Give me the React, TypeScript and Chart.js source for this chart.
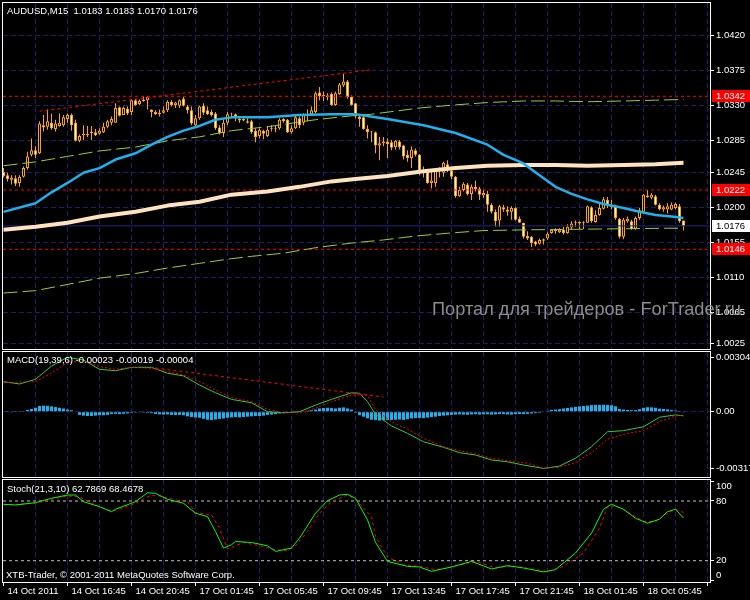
import React, { useEffect, useRef } from 'react';
import { Chart, registerables } from 'chart.js';

Chart.register(...registerables);

// ------------------------------------------------------------------ data
const symbolTitle = 'AUDUSD,M15';
const macdTitle = 'MACD(19,39,6)';
const stochTitle = 'Stoch(21,3,10)';
const copyright = 'XTB-Trader, \u00a9 2001-2011 MetaQuotes Software Corp.';
const watermark = 'Портал для трейдеров - ForTrader.ru';

const timeLabels = [
  '14 Oct 2011', '14 Oct 16:45', '14 Oct 20:45', '17 Oct 01:45', '17 Oct 05:45', '17 Oct 09:45',
  '17 Oct 13:45', '17 Oct 17:45', '17 Oct 21:45', '18 Oct 01:45', '18 Oct 05:45',
];
const BARS_PER_LABEL = 16;
const BARS_PER_GRID = 8;

const priceTicks = [1.0025, 1.0065, 1.011, 1.0155, 1.02, 1.0245, 1.0285, 1.033, 1.0375, 1.042];
const macdTicks = [-0.00317, 0, 0.00304];
const stochTicks = [0, 20, 80, 100];
const stochLevels = [80, 20];

const opens = [
  1.0245, 1.0241, 1.0235, 1.0237, 1.0231, 1.0239, 1.025, 1.0267, 1.0273, 1.0269,
  1.0305, 1.0303, 1.0308, 1.03, 1.0304, 1.0305, 1.0313, 1.0318, 1.0308, 1.0285,
  1.0292, 1.0294, 1.0295, 1.0296, 1.0294, 1.0296, 1.0303, 1.0308, 1.0308, 1.0328,
  1.0318, 1.0326, 1.0322, 1.0337, 1.0332, 1.0336, 1.0337, 1.0325, 1.0322, 1.0319,
  1.0321, 1.0324, 1.0335, 1.0331, 1.033, 1.0339, 1.0329, 1.0324, 1.0305, 1.0314,
  1.033, 1.0324, 1.0322, 1.032, 1.0302, 1.0295, 1.0308, 1.0319, 1.0319, 1.0313,
  1.0311, 1.031, 1.031, 1.0298, 1.0291, 1.0298, 1.0291, 1.03, 1.0301, 1.0301,
  1.0313, 1.0312, 1.0296, 1.0301, 1.0314, 1.0308, 1.0318, 1.0319, 1.0322, 1.0347,
  1.0342, 1.0343, 1.0345, 1.0331, 1.0345, 1.0356, 1.0361, 1.0341, 1.0333, 1.0316,
  1.0315, 1.03, 1.0296, 1.0296, 1.0279, 1.0282, 1.0284, 1.0283, 1.0277, 1.0284,
  1.0279, 1.0267, 1.0263, 1.0273, 1.0267, 1.0244, 1.0246, 1.0231, 1.0231, 1.0248,
  1.0244, 1.0255, 1.0247, 1.0239, 1.0214, 1.0222, 1.0229, 1.0217, 1.0226, 1.0224,
  1.0215, 1.0217, 1.0203, 1.0194, 1.0183, 1.02, 1.0197, 1.0194, 1.0199, 1.0185,
  1.018, 1.0163, 1.0162, 1.0156, 1.0153, 1.0157, 1.016, 1.0167, 1.0171, 1.0168,
  1.0171, 1.0167, 1.0174, 1.018, 1.0181, 1.018, 1.018, 1.02, 1.0181, 1.019,
  1.0198, 1.0209, 1.0203, 1.0201, 1.0185, 1.0162, 1.0182, 1.0182, 1.0172, 1.0186,
  1.0194, 1.0215, 1.0212, 1.0214, 1.0203, 1.0197, 1.0197, 1.0197, 1.0199, 1.0201,
  1.0183,
];
const highs = [
  1.025, 1.0244, 1.0241, 1.0241, 1.0241, 1.0252, 1.0271, 1.0288, 1.0278, 1.031,
  1.0318, 1.0325, 1.032, 1.0312, 1.032, 1.0318, 1.032, 1.032, 1.0312, 1.0293,
  1.0305, 1.0304, 1.0304, 1.03, 1.0301, 1.0308, 1.0312, 1.0316, 1.0333, 1.0329,
  1.0329, 1.0329, 1.0338, 1.0339, 1.0338, 1.0342, 1.0342, 1.0325, 1.0324, 1.0325,
  1.0329, 1.0337, 1.0337, 1.0335, 1.0338, 1.0341, 1.0331, 1.0329, 1.0318, 1.033,
  1.0333, 1.0329, 1.0325, 1.0322, 1.0305, 1.0312, 1.0322, 1.0321, 1.032, 1.0315,
  1.0314, 1.0314, 1.0312, 1.0301, 1.0301, 1.0299, 1.0304, 1.0305, 1.0304, 1.0314,
  1.0314, 1.0313, 1.0305, 1.0317, 1.0316, 1.032, 1.0325, 1.0329, 1.0348, 1.0354,
  1.0348, 1.0346, 1.0347, 1.0348, 1.0359, 1.0371, 1.0363, 1.0343, 1.0333, 1.0317,
  1.0317, 1.0305, 1.0298, 1.0297, 1.029, 1.029, 1.0288, 1.0286, 1.0286, 1.0286,
  1.028, 1.0273, 1.0278, 1.0275, 1.0268, 1.0252, 1.0249, 1.0248, 1.025, 1.0251,
  1.0258, 1.026, 1.0249, 1.024, 1.0226, 1.0232, 1.0231, 1.0229, 1.0234, 1.0226,
  1.0222, 1.0221, 1.0205, 1.0197, 1.0203, 1.0203, 1.0201, 1.0201, 1.02, 1.0188,
  1.018, 1.0169, 1.0163, 1.0157, 1.016, 1.016, 1.0168, 1.0172, 1.0173, 1.0173,
  1.0175, 1.0178, 1.0182, 1.0183, 1.0182, 1.0182, 1.0202, 1.0201, 1.0196, 1.0205,
  1.0213, 1.0213, 1.0209, 1.0203, 1.0186, 1.0186, 1.0188, 1.0184, 1.0188, 1.0199,
  1.0217, 1.0222, 1.0218, 1.0216, 1.0205, 1.0202, 1.0205, 1.0206, 1.0206, 1.0204,
  1.0183,
];
const lows = [
  1.0238, 1.0233, 1.0229, 1.0227, 1.0226, 1.0238, 1.0248, 1.0265, 1.0263, 1.0268,
  1.0297, 1.0299, 1.0299, 1.0297, 1.0303, 1.0303, 1.0308, 1.0298, 1.0284, 1.0283,
  1.0286, 1.029, 1.0286, 1.0291, 1.0293, 1.0295, 1.0301, 1.0305, 1.0308, 1.0316,
  1.0318, 1.0318, 1.0318, 1.033, 1.0331, 1.0335, 1.0325, 1.0315, 1.0318, 1.0316,
  1.032, 1.0322, 1.0329, 1.0327, 1.0327, 1.0329, 1.032, 1.0305, 1.0303, 1.0312,
  1.0318, 1.0318, 1.0316, 1.0299, 1.0293, 1.029, 1.0305, 1.0314, 1.031, 1.0308,
  1.031, 1.0307, 1.0294, 1.0283, 1.0288, 1.0287, 1.029, 1.0297, 1.0296, 1.0299,
  1.0308, 1.0295, 1.0294, 1.03, 1.0301, 1.0305, 1.031, 1.0318, 1.032, 1.0337,
  1.0336, 1.0337, 1.033, 1.033, 1.0344, 1.0354, 1.0339, 1.033, 1.0314, 1.0303,
  1.0299, 1.0288, 1.0283, 1.0269, 1.026, 1.0278, 1.0263, 1.0273, 1.0274, 1.0274,
  1.0261, 1.0258, 1.025, 1.0265, 1.0241, 1.0238, 1.023, 1.0224, 1.0226, 1.0238,
  1.0239, 1.0245, 1.0236, 1.0212, 1.0213, 1.022, 1.0215, 1.0209, 1.022, 1.0209,
  1.0212, 1.0194, 1.0192, 1.0175, 1.0175, 1.0194, 1.0189, 1.0184, 1.0183, 1.018,
  1.016, 1.0158, 1.0149, 1.015, 1.0152, 1.0152, 1.0158, 1.0166, 1.0166, 1.0167,
  1.0165, 1.0166, 1.0171, 1.0175, 1.0172, 1.0172, 1.018, 1.018, 1.018, 1.0189,
  1.0197, 1.0199, 1.0197, 1.0184, 1.016, 1.0159, 1.018, 1.0171, 1.0171, 1.0184,
  1.0193, 1.0212, 1.021, 1.0202, 1.0196, 1.0194, 1.0192, 1.0196, 1.0197, 1.018,
  1.017,
];
const closes = [
  1.024, 1.0236, 1.0238, 1.023, 1.0239, 1.025, 1.0265, 1.0273, 1.0267, 1.0307,
  1.0302, 1.031, 1.0301, 1.0307, 1.0308, 1.0315, 1.0318, 1.0305, 1.0285, 1.0291,
  1.0294, 1.0292, 1.0297, 1.0292, 1.0298, 1.0303, 1.031, 1.0313, 1.0327, 1.0317,
  1.0327, 1.032, 1.0337, 1.0331, 1.0336, 1.0338, 1.0341, 1.0322, 1.0319, 1.0321,
  1.0324, 1.0335, 1.0331, 1.0334, 1.0337, 1.033, 1.0324, 1.0307, 1.0314, 1.0329,
  1.0321, 1.0319, 1.0318, 1.0301, 1.0295, 1.0308, 1.0319, 1.032, 1.0314, 1.0311,
  1.0313, 1.0308, 1.0296, 1.029, 1.0299, 1.0294, 1.0299, 1.0301, 1.03, 1.0312,
  1.031, 1.0296, 1.0301, 1.0315, 1.0305, 1.0318, 1.0317, 1.0324, 1.0346, 1.0342,
  1.0344, 1.0341, 1.0331, 1.0346, 1.0357, 1.0361, 1.0341, 1.0331, 1.0316, 1.0313,
  1.03, 1.0296, 1.0297, 1.0279, 1.0282, 1.0284, 1.0281, 1.0276, 1.0285, 1.0277,
  1.0265, 1.0263, 1.0274, 1.0267, 1.0244, 1.0248, 1.0231, 1.0234, 1.0248, 1.0246,
  1.0257, 1.0247, 1.0239, 1.0214, 1.0222, 1.023, 1.0217, 1.0226, 1.0223, 1.0216,
  1.0218, 1.0203, 1.0194, 1.0182, 1.0201, 1.0197, 1.0194, 1.0199, 1.0184, 1.018,
  1.0162, 1.016, 1.0154, 1.0152, 1.0158, 1.0159, 1.0166, 1.0171, 1.0169, 1.0171,
  1.0167, 1.0175, 1.0179, 1.0181, 1.0179, 1.0181, 1.0201, 1.0182, 1.019, 1.0199,
  1.021, 1.0203, 1.02, 1.0186, 1.0162, 1.0184, 1.0185, 1.0172, 1.0186, 1.0196,
  1.0216, 1.0213, 1.0216, 1.0203, 1.0197, 1.02, 1.0201, 1.0203, 1.0204, 1.0182,
  1.0176,
];

type Pt = [number, number];

const maFast: Pt[] = [
  [0, 1.0194], [8, 1.0205], [12, 1.0219], [16, 1.0231], [20, 1.0244], [24, 1.025], [28, 1.0261],
  [33, 1.0269], [37, 1.028], [41, 1.029], [45, 1.0298], [49, 1.0304], [53, 1.0312], [57, 1.0315],
  [66, 1.0315], [74, 1.0318], [82, 1.0319], [88, 1.0319], [96, 1.0313], [105, 1.0305], [113, 1.0295],
  [121, 1.028], [125, 1.0267], [130, 1.0256], [134, 1.0241], [138, 1.0226], [142, 1.0217],
  [146, 1.021], [150, 1.0204], [155, 1.0199], [159, 1.0194], [163, 1.019], [167, 1.0188], [170, 1.0186],
];
const maSlow: Pt[] = [
  [0, 1.0171], [8, 1.0175], [16, 1.018], [24, 1.0188], [33, 1.0194], [41, 1.0202], [49, 1.0207],
  [57, 1.0216], [66, 1.022], [74, 1.0226], [82, 1.0233], [88, 1.0236], [96, 1.024], [105, 1.0246],
  [113, 1.025], [121, 1.0253], [130, 1.0254], [138, 1.0254], [146, 1.0253], [155, 1.0254],
  [163, 1.0255], [170, 1.0257],
];
const envUpper: Pt[] = [
  [0, 1.0253], [8, 1.0258], [16, 1.0265], [24, 1.0272], [33, 1.0277], [41, 1.0285], [49, 1.029],
  [57, 1.0298], [66, 1.0303], [78, 1.0312], [87, 1.0317], [92, 1.0319], [104, 1.0327], [113, 1.0331],
  [121, 1.0334], [130, 1.0336], [138, 1.0336], [146, 1.0335], [155, 1.0336], [163, 1.0337], [170, 1.0338],
];
const envLower: Pt[] = [
  [0, 1.009], [8, 1.0093], [16, 1.0101], [24, 1.0109], [33, 1.0115], [41, 1.0122], [49, 1.0128],
  [57, 1.0134], [62, 1.0137], [70, 1.0141], [78, 1.0148], [87, 1.0154], [95, 1.0158], [103, 1.0163],
  [112, 1.0167], [120, 1.017], [132, 1.0171], [149, 1.0172], [166, 1.0173], [170, 1.0173],
];
const priceTrend: Pt[] = [[9, 1.0323], [92, 1.0376]];
const redLevels = [1.0342, 1.0222, 1.0146];

const macdHist = [
  0.00002, 0.00001, -0.00001, 0.00001, 0.00002, 0.00004, 0.0001, 0.00015, 0.00022, 0.00032,
  0.00034, 0.00033, 0.0003, 0.00026, 0.00022, 0.00018, 0.00012, 0.00008, 0.00003, -0.00018,
  -0.00022, -0.00024, -0.00024, -0.00022, -0.0002, -0.0002, -0.00018, -0.00013, -0.00012, -0.00014,
  -0.00012, -0.0001, -0.00006, -0.00005, -0.00004, -0.00005, -0.00006, -0.00008, -0.00013, -0.00015,
  -0.00016, -0.00015, -0.00018, -0.00019, -0.00018, -0.0002, -0.00026, -0.0003, -0.00032, -0.00034,
  -0.0004, -0.00045, -0.00047, -0.00044, -0.0004, -0.00038, -0.00034, -0.00032, -0.0003, -0.00032,
  -0.0003, -0.00028, -0.00026, -0.00024, -0.00024, -0.00022, -0.00018, -0.00016, -0.00014, -0.0001,
  -0.00008, -0.00006, -0.00005, -0.00004, -0.00003, 0, 0.00005, 0.00008, 0.00012, 0.00018,
  0.00021, 0.00022, 0.0002, 0.00018, 0.00022, 0.00024, 0.00018, 0.00012, -0.00006, -0.00019,
  -0.00028, -0.00037, -0.00045, -0.00047, -0.0005, -0.00048, -0.00046, -0.00047, -0.00045, -0.00044,
  -0.00046, -0.00042, -0.00038, -0.00036, -0.00035, -0.00036, -0.00033, -0.0003, -0.00028, -0.00024,
  -0.00022, -0.0002, -0.00018, -0.00016, -0.00015, -0.00016, -0.00017, -0.00015, -0.00014, -0.00016,
  -0.00015, -0.00014, -0.00016, -0.00015, -0.00013, -0.00014, -0.00015, -0.00016, -0.00014, -0.00013,
  -0.00014, -0.00012, -0.0001, -0.00008, -0.00006, 0.00003, 0.00005, 0.0001, 0.00012, 0.00014,
  0.00018, 0.00021, 0.00024, 0.00027, 0.0003, 0.00032, 0.00034, 0.00037, 0.00038, 0.00038,
  0.00039, 0.00038, 0.00036, 0.0003, 0.00015, 0.00012, 0.0001, 0.00008, 0.00009, 0.00014,
  0.00022, 0.00025, 0.00024, 0.00022, 0.00017, 0.00015, 0.00013, 0.00009, 0.00006, 0.00001,
  -0.00004,
];
const macdMain: Pt[] = [
  [0, 0.00168], [4, 0.00155], [8, 0.00181], [12, 0.00255], [16, 0.00304], [20, 0.00289], [24, 0.00237],
  [28, 0.00229], [32, 0.00248], [37, 0.00248], [41, 0.00215], [45, 0.002], [49, 0.00149], [53, 0.00106],
  [57, 0.00069], [62, 0.0005], [66, 0], [70, -0.00006], [74, 0], [78, 0.00037], [82, 0.00069],
  [87, 0.00106], [89, 0.00103], [91, 0.00056], [93, -0.00015], [97, -0.0008], [101, -0.00121],
  [105, -0.00168], [110, -0.00199], [114, -0.00229], [118, -0.00242], [122, -0.0027], [126, -0.0028],
  [130, -0.00298], [135, -0.00317], [139, -0.00304], [143, -0.0026], [147, -0.00196], [151, -0.00112],
  [155, -0.00106], [160, -0.00084], [164, -0.00031], [168, -0.00018], [170, -0.00023],
];
const macdSignal: Pt[] = [
  [0, 0.00162], [4, 0.00166], [8, 0.00168], [12, 0.00215], [16, 0.00274], [20, 0.00285], [24, 0.00252],
  [28, 0.00237], [32, 0.00248], [37, 0.00243], [41, 0.00224], [45, 0.00205], [49, 0.00168], [53, 0.00121],
  [57, 0.0008], [62, 0.00056], [66, 0.00013], [70, -0.00006], [74, -0.00006], [78, 0.00019], [82, 0.00056],
  [87, 0.00093], [91, 0.00093], [93, 0.0001], [97, -0.00056], [101, -0.00098], [105, -0.00149],
  [110, -0.00196], [114, -0.00218], [118, -0.00236], [122, -0.0026], [126, -0.00274], [131, -0.00288],
  [135, -0.00316], [139, -0.00311], [143, -0.00285], [147, -0.00229], [151, -0.00154], [156, -0.00121],
  [160, -0.00106], [164, -0.00056], [168, -0.00024], [170, -0.00019],
];
const macdTrend: Pt[] = [[38, 0.00244], [95, 0.00082]];

const stochMain: Pt[] = [
  [0, 76.7], [3, 76], [8, 78.3], [12, 82.7], [16, 86], [18, 86], [20, 79.3], [24, 74.3], [27, 69.3],
  [28, 71.7], [33, 79.3], [36, 88.3], [38, 87.7], [41, 81.7], [45, 77.7], [48, 67.7], [51, 64.3],
  [53, 49.3], [55, 32.7], [57, 36], [58, 39.3], [62, 38.3], [66, 35], [68, 29.3], [72, 32.7],
  [74, 42.7], [78, 67.7], [81, 80.3], [84, 86], [86, 86.7], [88, 82.7], [91, 61], [93, 38.5],
  [96, 19.3], [101, 14.3], [104, 13.7], [107, 9.3], [110, 12], [112, 13.7], [117, 19.3], [122, 11.7],
  [126, 15], [130, 12.7], [135, 8.7], [138, 11], [143, 27.7], [147, 47.7], [150, 71.7], [152, 76.7],
  [155, 71.7], [158, 62.7], [161, 57.7], [164, 61.7], [166, 69.3], [168, 71.7], [170, 62.7869],
];
const stochSignal: Pt[] = [
  [0, 76], [8, 77.7], [12, 81.7], [16, 85], [19, 84.3], [22, 77.7], [26, 71], [28, 70.3], [33, 77.7],
  [37, 86], [39, 85], [43, 81], [46, 79.3], [48, 68.3], [52, 66], [54, 52.7], [56, 31.7], [58, 35],
  [60, 38.3], [64, 35], [68, 31], [71, 30.3], [73, 35], [76, 49.3], [79, 67.7], [82, 79.3], [86, 86],
  [88, 81.7], [92, 64.3], [93, 44.3], [96, 23.7], [100, 16], [104, 14.3], [108, 11], [111, 12.7],
  [118, 19.3], [123, 12.7], [127, 15], [132, 11.7], [136, 9.3], [140, 14.3], [145, 27.7], [149, 52.7],
  [151, 74.3], [153, 75], [156, 69.3], [160, 59.3], [163, 59.3], [166, 67.7], [168, 71.7], [170, 68.4678],
];

// ------------------------------------------------------------------ styling
const FONT = '"Liberation Sans", Arial, sans-serif';
const FONT_SIZE = 9.5;
const X_MIN = -0.125;
const X_MAX = 176.625;
const AXIS_W = 40;
const GRID = '#1e1e64';
const GRID_DASH = [5, 3];
const ORANGE = '#ffa500';
const RED = '#ff0000';

const last = (a: any[]) => a[a.length - 1];
const xy = (pts: Pt[]) => pts.map(([x, y]) => ({ x, y }));
const hline = (v: number) => [{ x: X_MIN, y: v }, { x: X_MAX, y: v }];

function lineDs(data: any[], color: string, width: number, order: number, dash: number[] = []) {
  return {
    type: 'line', data, borderColor: color, borderWidth: width, borderDash: dash,
    pointRadius: 0, tension: 0, fill: false, order, borderCapStyle: 'butt', borderJoinStyle: 'round',
  };
}

function xScale(showLabels: boolean) {
  return {
    type: 'linear', min: X_MIN, max: X_MAX, offset: false, bounds: 'data', display: true,
    afterBuildTicks: (s: any) => {
      const t: any[] = [];
      for (let v = 0; v <= X_MAX; v += BARS_PER_GRID) t.push({ value: v });
      s.ticks = t;
    },
    afterFit: (s: any) => { s.height = showLabels ? 18 : 0; s.paddingLeft = 0; s.paddingRight = 0; },
    grid: {
      color: (c: any) => (c.tick && c.tick.value === 0 ? 'rgba(0,0,0,0)' : GRID),
      lineWidth: 1, offset: false, drawTicks: showLabels, tickLength: 4, tickWidth: 1, tickBorderDash: [],
      tickColor: (c: any) => (c.tick && c.tick.value % BARS_PER_LABEL === 0 ? '#ffffff' : 'rgba(0,0,0,0)'),
    },
    border: { display: false, dash: GRID_DASH },
    ticks: {
      display: showLabels, autoSkip: false, maxRotation: 0, minRotation: 0, align: 'start', labelOffset: 4,
      padding: 0, color: '#ffffff', font: { family: FONT, size: FONT_SIZE },
      callback: (v: number) => (v % BARS_PER_LABEL === 0 ? timeLabels[v / BARS_PER_LABEL] ?? '' : ''),
    },
  };
}

function yScale(min: number, max: number, ticks: number[], fmt: (v: number) => string, gridColor: (v: number) => string) {
  return {
    type: 'linear', position: 'right', min, max, bounds: 'data',
    afterBuildTicks: (s: any) => { s.ticks = ticks.map((v) => ({ value: v })); },
    afterFit: (s: any) => { s.width = AXIS_W; s.paddingTop = 0; s.paddingBottom = 0; },
    grid: {
      color: (c: any) => (c.tick ? gridColor(c.tick.value) : 'rgba(0,0,0,0)'),
      lineWidth: 1, drawTicks: true, tickLength: 4, tickWidth: 1, tickColor: '#ffffff', tickBorderDash: [],
    },
    border: { display: false, dash: GRID_DASH },
    ticks: { color: '#ffffff', padding: 2, font: { family: FONT, size: FONT_SIZE }, callback: (v: number) => fmt(v) },
  };
}

function baseOptions(padding: any) {
  return {
    responsive: false, maintainAspectRatio: false, animation: false, devicePixelRatio: 1, events: [],
    layout: { padding },
    plugins: { legend: { display: false }, tooltip: { enabled: false } },
  };
}

function overlay(id: string, draw: (chart: any, ctx: CanvasRenderingContext2D) => void) {
  return {
    id,
    afterDraw(chart: any) {
      const { ctx, chartArea: a } = chart;
      ctx.save();
      ctx.strokeStyle = '#ffffff';
      ctx.lineWidth = 1;
      ctx.setLineDash([]);
      ctx.strokeRect(a.left - 0.5, a.top - 0.5, a.right - a.left + 1, a.bottom - a.top + 1);
      ctx.font = `${FONT_SIZE}px ${FONT}`;
      ctx.textBaseline = 'middle';
      ctx.textAlign = 'left';
      draw(chart, ctx);
      ctx.restore();
    },
  };
}

function axisBox(chart: any, ctx: CanvasRenderingContext2D, v: number, bg: string, fg: string) {
  const y = chart.scales.y.getPixelForValue(v);
  const x = chart.chartArea.right;
  ctx.fillStyle = bg;
  ctx.fillRect(x + 2, Math.round(y) - 6, AXIS_W - 2, 12);
  ctx.fillStyle = fg;
  ctx.fillText(v.toFixed(4), x + 6, y);
}

function priceConfig(): any {
  const candleIdx = opens.map((_, i) => i);
  const bid = last(closes);
  const datasets: any[] = [
    lineDs(xy(priceTrend), RED, 1, 1, [3, 3]),
    lineDs(xy(maFast), '#1cb2f0', 2.5, 2),
    lineDs(xy(maSlow), '#ffe2c0', 4, 3),
    lineDs(xy(envUpper), '#9acd32', 1, 4, [14, 5]),
    lineDs(xy(envLower), '#9acd32', 1, 4, [14, 5]),
    ...redLevels.map((v) => lineDs(hline(v), RED, 1, 5, [3, 3])),
    lineDs(hline(bid), '#23238c', 1, 6),
    {
      type: 'bar', order: 10, grouped: false, barThickness: 3, borderWidth: 1, borderColor: ORANGE,
      borderSkipped: false, inflateAmount: 0,
      backgroundColor: (c: any) => (closes[c.dataIndex] >= opens[c.dataIndex] ? '#000000' : '#ffffff'),
      data: candleIdx.map((i) => ({ x: i, y: [opens[i], closes[i]] })),
    },
    {
      type: 'bar', order: 11, grouped: false, barThickness: 1, borderWidth: 0, backgroundColor: ORANGE,
      inflateAmount: 0,
      data: candleIdx.map((i) => ({ x: i, y: [lows[i], highs[i]] })),
    },
  ];
  return {
    type: 'line',
    data: { datasets },
    options: {
      ...baseOptions({ left: 3, top: 3, right: 0, bottom: 1 }),
      scales: {
        x: xScale(false),
        y: yScale(1.00183, 1.04615, priceTicks, (v) => v.toFixed(4), () => GRID),
      },
    },
    plugins: [
      overlay('priceOverlay', (chart, ctx) => {
        const a = chart.chartArea;
        ctx.fillStyle = '#ffffff';
        ctx.fillText(
          `${symbolTitle}  ${last(opens).toFixed(4)} ${last(highs).toFixed(4)} ${last(lows).toFixed(4)} ${last(closes).toFixed(4)}`,
          a.left + 4, a.top + 8,
        );
        redLevels.forEach((v) => axisBox(chart, ctx, v, RED, '#ffffff'));
        axisBox(chart, ctx, bid, '#ffffff', '#000000');
        ctx.font = `16px ${FONT}`;
        const w = ctx.measureText(watermark).width;
        ctx.font = `${(16 * 309) / w}px ${FONT}`;
        ctx.fillStyle = '#8c8c8c';
        ctx.fillText(watermark, 432, a.bottom - 39);
      }),
    ],
  };
}

function macdConfig(): any {
  const datasets: any[] = [
    lineDs(xy(macdTrend), RED, 1, 1, [3, 3]),
    lineDs(xy(macdSignal), RED, 1, 2, [2, 2]),
    lineDs(xy(macdMain), '#32cd32', 1, 3),
    {
      type: 'bar', order: 10, grouped: false, barThickness: 3, borderWidth: 0, backgroundColor: '#1cb2f0',
      inflateAmount: 0,
      data: macdHist.map((v, i) => ({ x: i, y: v })),
    },
  ];
  return {
    type: 'line',
    data: { datasets },
    options: {
      ...baseOptions({ left: 3, top: 2, right: 0, bottom: 1 }),
      scales: {
        x: xScale(false),
        y: yScale(-0.00365, 0.003337, macdTicks, (v) => (v === 0 ? '0.00' : v.toFixed(5)),
          (v) => (v === 0 ? GRID : 'rgba(0,0,0,0)')),
      },
    },
    plugins: [
      overlay('macdOverlay', (chart, ctx) => {
        const a = chart.chartArea;
        ctx.fillStyle = '#ffffff';
        ctx.fillText(
          `${macdTitle} ${last(macdMain)[1].toFixed(5)} ${last(macdSignal)[1].toFixed(5)} ${last(macdHist).toFixed(5)}`,
          a.left + 4, a.top + 8,
        );
      }),
    ],
  };
}

function stochConfig(): any {
  const datasets: any[] = [
    lineDs(xy(stochMain), '#00ff00', 1, 1),
    lineDs(xy(stochSignal), RED, 1, 2, [3, 3]),
    ...stochLevels.map((v) => lineDs(hline(v), '#c0c0c0', 1, 5, [3, 3])),
  ];
  return {
    type: 'line',
    data: { datasets },
    options: {
      ...baseOptions({ left: 3, top: 2, right: 0, bottom: 0 }),
      scales: {
        x: xScale(true),
        y: yScale(-1.4, 101.1, stochTicks, (v) => (v === 80 || v === 20 ? String(v) : ''), () => 'rgba(0,0,0,0)'),
      },
    },
    plugins: [
      overlay('stochOverlay', (chart, ctx) => {
        const a = chart.chartArea;
        const ys = chart.scales.y;
        ctx.fillStyle = '#ffffff';
        ctx.fillText(`${stochTitle} ${last(stochMain)[1].toFixed(4)} ${last(stochSignal)[1].toFixed(4)}`, a.left + 4, a.top + 9);
        ctx.fillText(copyright, a.left + 3, a.bottom - 7);
        ctx.fillText(String(stochTicks[3]), a.right + 6, ys.getPixelForValue(stochTicks[3]) + 5);
        ctx.fillText(String(stochTicks[0]), a.right + 6, ys.getPixelForValue(stochTicks[0]) - 5);
      }),
    ],
  };
}

export default function App() {
  const r1 = useRef<HTMLCanvasElement>(null);
  const r2 = useRef<HTMLCanvasElement>(null);
  const r3 = useRef<HTMLCanvasElement>(null);
  useEffect(() => {
    const charts = [
      new Chart(r1.current as HTMLCanvasElement, priceConfig()),
      new Chart(r2.current as HTMLCanvasElement, macdConfig()),
      new Chart(r3.current as HTMLCanvasElement, stochConfig()),
    ];
    return () => charts.forEach((c) => c.destroy());
  }, []);
  return (
    <div style={{ position: 'absolute', left: 0, top: 0, width: 750, height: 600, background: '#000', overflow: 'hidden' }}>
      <canvas ref={r1} width={750} height={350} style={{ position: 'absolute', left: 0, top: 0 }} />
      <canvas ref={r2} width={750} height={128} style={{ position: 'absolute', left: 0, top: 350 }} />
      <canvas ref={r3} width={750} height={122} style={{ position: 'absolute', left: 0, top: 478 }} />
    </div>
  );
}
